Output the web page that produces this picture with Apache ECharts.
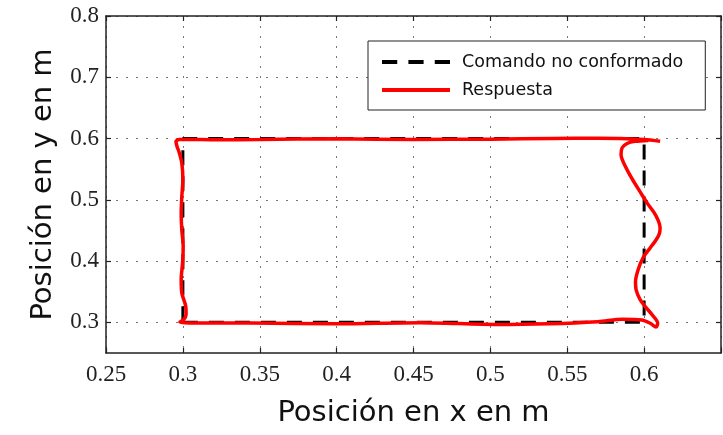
<!DOCTYPE html>
<html>
<head>
<meta charset="utf-8">
<script src="https://cdn.jsdelivr.net/npm/echarts@6/dist/echarts.min.js"></script>
<style>
  html, body { margin: 0; padding: 0; background: #fff; }
  #chart { width: 723px; height: 435px; }
</style>
</head>
<body>
<div id="chart"></div>
<script>
// Axis ticks and labels
const xTicks = [0.25, 0.3, 0.35, 0.4, 0.45, 0.5, 0.55, 0.6, 0.65];
const xLabels = [0.25, 0.3, 0.35, 0.4, 0.45, 0.5, 0.55, 0.6];
const yTicks = [0.3, 0.4, 0.5, 0.6, 0.7, 0.8];

// Reference rectangle (command)
const cmdX = [0.3, 0.6, 0.6, 0.3, 0.3];
const cmdY = [0.3, 0.3, 0.6, 0.6, 0.3];

// Measured response trajectory
const respX = [
  0.6104, 0.600, 0.570, 0.540, 0.500, 0.450, 0.400, 0.350, 0.320, 0.303,
  0.2975, 0.2955, 0.2962, 0.2975, 0.2993, 0.3000, 0.2993, 0.2989, 0.2993, 0.3002,
  0.2998, 0.2989, 0.2993, 0.3018, 0.3021, 0.3005, 0.2980, 0.3045, 0.3450, 0.4000,
  0.4540, 0.5050, 0.5380, 0.5700, 0.5860, 0.5985, 0.6040, 0.6078, 0.6088, 0.6052,
  0.6013, 0.5974, 0.5948, 0.5944, 0.5961, 0.5993, 0.6039, 0.6075, 0.6098, 0.6104,
  0.6092, 0.6065, 0.6019, 0.5974, 0.5922, 0.5876, 0.5850, 0.5857, 0.5889, 0.5941, 0.6026
];
const respY = [
  0.5955, 0.5985, 0.6005, 0.6000, 0.5990, 0.5985, 0.5995, 0.5985, 0.5980, 0.5985,
  0.5985, 0.5950, 0.5870, 0.5780, 0.5600, 0.5330, 0.5050, 0.4780, 0.4510, 0.4240,
  0.3970, 0.3700, 0.3480, 0.3270, 0.3130, 0.3045, 0.3005, 0.2990, 0.2988, 0.2978,
  0.2995, 0.2965, 0.2978, 0.3012, 0.3050, 0.3040, 0.2985, 0.2925, 0.2990, 0.3125,
  0.3240, 0.3370, 0.3530, 0.3665, 0.3860, 0.4055, 0.4215, 0.4335, 0.4440, 0.4545,
  0.4660, 0.4790, 0.4950, 0.5130, 0.5340, 0.5555, 0.5735, 0.5850, 0.5920, 0.5955, 0.5970
];

const zip = (xs, ys) => xs.map((x, i) => [x, ys[i]]);
const fmt = v => String(parseFloat(v.toFixed(2)));

// Legend glyphs: three dashes for the command, a solid bar for the response
const dashedIcon = 'path://M0,0h15v4h-15z M26,0h15v4h-15z M52,0h15v4h-15z';
const solidIcon = 'path://M0,0h67v4h-67z';

const gridLine = { show: true, lineStyle: { color: '#777', width: 1, type: [2, 8] } };
const axisLine = { show: true, onZero: false, lineStyle: { color: '#222', width: 1.5 } };
const tickStyle = { show: true, inside: true, length: 5, lineStyle: { color: '#222', width: 1.2 } };
const tickFont = { fontFamily: 'Liberation Serif', fontSize: 23, color: '#222' };
const titleFont = { fontFamily: 'DejaVu Sans', fontSize: 29, color: '#111' };

const chart = echarts.init(document.getElementById('chart'), null, { renderer: 'canvas' });
chart.setOption({
  animation: false,
  backgroundColor: '#fff',
  grid: { left: 106, top: 16, width: 615, height: 337, containLabel: false },
  legend: {
    orient: 'vertical',
    left: 368,
    top: 41,
    padding: [12, 22, 11, 14],
    borderColor: '#222',
    borderWidth: 1,
    itemWidth: 68,
    itemHeight: 18,
    itemGap: 10,
    symbolKeepAspect: true,
    backgroundColor: '#fff',
    textStyle: { fontFamily: 'DejaVu Sans', fontSize: 17.5, color: '#111', padding: [0, 0, 0, 7] },
    data: [
      { name: 'Comando no conformado', icon: dashedIcon },
      { name: 'Respuesta', icon: solidIcon }
    ]
  },
  xAxis: [
    {
      type: 'value', min: 0.25, max: 0.65, position: 'bottom',
      name: 'Posición en x en m', nameLocation: 'middle', nameGap: 46, nameTextStyle: titleFont,
      axisLine: axisLine,
      axisTick: { ...tickStyle, customValues: xTicks },
      axisLabel: { customValues: xLabels, margin: 10, formatter: fmt, ...tickFont },
      splitLine: gridLine
    },
    {
      type: 'value', min: 0.25, max: 0.65, position: 'top',
      axisLine: axisLine,
      axisTick: { ...tickStyle, customValues: xTicks },
      axisLabel: { show: false },
      splitLine: { show: false }
    }
  ],
  yAxis: [
    {
      type: 'value', min: 0.25, max: 0.8, position: 'left',
      name: 'Posición en y en m', nameLocation: 'middle', nameGap: 48, nameTextStyle: titleFont,
      axisLine: axisLine,
      axisTick: { ...tickStyle, customValues: yTicks },
      axisLabel: { customValues: yTicks, margin: 7, formatter: fmt, ...tickFont },
      splitLine: gridLine
    },
    {
      type: 'value', min: 0.25, max: 0.8, position: 'right',
      axisLine: axisLine,
      axisTick: { ...tickStyle, customValues: yTicks },
      axisLabel: { show: false },
      splitLine: { show: false }
    }
  ],
  series: [
    {
      name: 'Comando no conformado',
      type: 'line',
      xAxisIndex: 0, yAxisIndex: 0,
      data: zip(cmdX, cmdY),
      symbol: 'none',
      lineStyle: { color: '#000', width: 3, type: [15, 11] },
      itemStyle: { color: '#000' },
      z: 2
    },
    {
      name: 'Respuesta',
      type: 'line',
      xAxisIndex: 0, yAxisIndex: 0,
      data: zip(respX, respY),
      symbol: 'none',
      smooth: 0.3,
      lineStyle: { color: '#ff0000', width: 3.5 },
      itemStyle: { color: '#ff0000' },
      z: 3
    }
  ]
});
</script>
</body>
</html>
